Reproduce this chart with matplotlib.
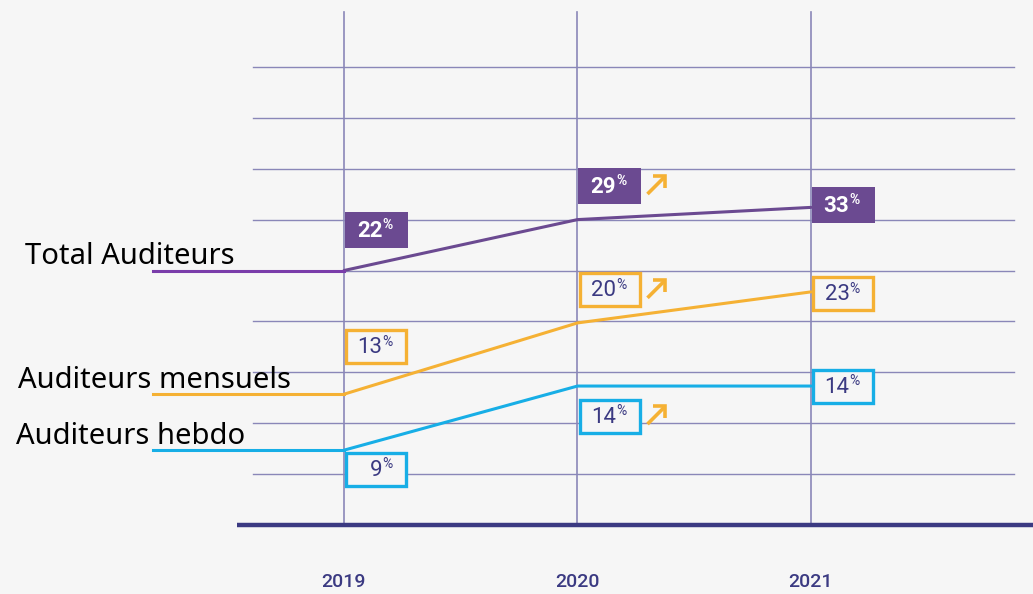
import matplotlib.pyplot as plt
from matplotlib.patches import Rectangle

# years on the x axis
YEARS = ["2019", "2020", "2021"]

# series names, shown at the left
SERIES = ["Total Auditeurs", "Auditeurs mensuels", "Auditeurs hebdo"]

# percentages written in the boxes
TOTAL_PCT = [22, 29, 33]
MENSUELS_PCT = [13, 20, 23]
HEBDO_PCT = [9, 14, 14]

# height of each line in grid steps (the drawing is not to scale)
TOTAL_LEVEL = [5.0, 6.0, 6.24]
MENSUELS_LEVEL = [2.57, 3.97, 4.58]
HEBDO_LEVEL = [1.47, 2.73, 2.73]

# up arrow next to the box for each year
TOTAL_UP = [False, True, False]
MENSUELS_UP = [False, True, False]
HEBDO_UP = [False, True, False]

# layout: vertical centre of each label box, in grid steps
TOTAL_BOX_Y = [5.80, 6.66, 6.29]
MENSUELS_BOX_Y = [3.50, 4.62, 4.54]
HEBDO_BOX_Y = [1.10, 2.14, 2.73]

# layout: left edge of the series names (pixels from the left)
NAME_X = [25, 18, 16]

PURPLE = "#6b4a91"
PURPLE_LEG = "#7a3daa"
ORANGE = "#f5b134"
BLUE = "#17aee6"
NAVY = "#3b3a82"
GRID = "#8a87b8"
BG = "#f6f6f6"

series = [
    (TOTAL_PCT, TOTAL_LEVEL, TOTAL_BOX_Y, TOTAL_UP, PURPLE, PURPLE_LEG, True),
    (MENSUELS_PCT, MENSUELS_LEVEL, MENSUELS_BOX_Y, MENSUELS_UP, ORANGE, ORANGE, False),
    (HEBDO_PCT, HEBDO_LEVEL, HEBDO_BOX_Y, HEBDO_UP, BLUE, BLUE, False),
]

# pixel -> data scales
PX_X = 233.5
PX_Y = 50.9

fig = plt.figure(figsize=(10.33, 5.94), dpi=100, facecolor=BG)
ax = fig.add_axes([0, 0, 1, 1])
ax.set_facecolor(BG)
ax.set_xlim(-344 / PX_X, (1033 - 344) / PX_X)
ax.set_ylim(-69 / PX_Y, 525 / PX_Y)
ax.axis("off")

x = list(range(len(YEARS)))

# grid
for lvl in range(1, 10):
    ax.plot([-91 / PX_X, 670 / PX_X], [lvl, lvl], color=GRID, lw=1.0, zorder=1)
for xi in x:
    ax.plot([xi, xi], [0, 513 / PX_Y], color=GRID, lw=1.2, zorder=1)
ax.plot([-107 / PX_X, 700 / PX_X], [0, 0], color=NAVY, lw=3.2, zorder=2,
        solid_capstyle="butt")

for xi, yr in zip(x, YEARS):
    ax.text(xi, -57 / PX_Y, yr, ha="center", va="center", color=NAVY,
            fontsize=14, fontweight="medium", family="Roboto")

box_w = 63 / PX_X
box_h = 36 / PX_Y


def up_arrow(xt, yt):
    # chevron arrow pointing up-right, tip at (xt, yt)
    kw = dict(color=ORANGE, lw=2.6, zorder=6, solid_capstyle="butt",
              solid_joinstyle="miter")
    ax.plot([xt - 18 / PX_X, xt - 1 / PX_X], [yt - 18 / PX_Y, yt - 1 / PX_Y], **kw)
    ax.plot([xt - 12 / PX_X, xt, xt], [yt, yt, yt - 12 / PX_Y], **kw)


for name, nx, (pct, lvl, box_y, up, col, leg_col, filled) in zip(SERIES, NAME_X, series):
    ax.plot(x, lvl, color=col, lw=2.2, zorder=3, solid_capstyle="round")
    ax.plot([-191 / PX_X, 0], [lvl[0], lvl[0]], color=leg_col, lw=2.2, zorder=3)
    ax.text((nx - 344) / PX_X, lvl[0] + 0.12, name, ha="left", va="baseline",
            fontsize=21, family="Noto Sans", color="black", zorder=4)

    for xi, p, by, u in zip(x, pct, box_y, up):
        left = xi + 1 / PX_X
        if filled:
            ax.add_patch(Rectangle((left, by - box_h / 2), box_w, box_h,
                                   facecolor=col, edgecolor="none", zorder=5))
            tcol, tw = "white", "bold"
        else:
            ax.add_patch(Rectangle((left + 1.5 / PX_X, by - box_h / 2 + 1.5 / PX_Y),
                                   box_w - 3 / PX_X, box_h - 3 / PX_Y,
                                   facecolor=BG, edgecolor=col, lw=2.4, zorder=5))
            tcol, tw = NAVY, "normal"
        cx = left + box_w / 2
        ax.annotate(str(p), xy=(cx, by), xytext=(6, -1), textcoords="offset pixels",
                    ha="right", va="center", fontsize=16, color=tcol,
                    fontweight=tw, family="Roboto", zorder=6)
        ax.annotate("%", xy=(cx, by), xytext=(6, 5), textcoords="offset pixels",
                    ha="left", va="center", fontsize=10, color=tcol,
                    fontweight=tw, family="Roboto", zorder=6)
        if u:
            up_arrow(xi + 88 / PX_X, by + 10 / PX_Y)

fig.savefig("out.png", dpi=100, facecolor=BG)
